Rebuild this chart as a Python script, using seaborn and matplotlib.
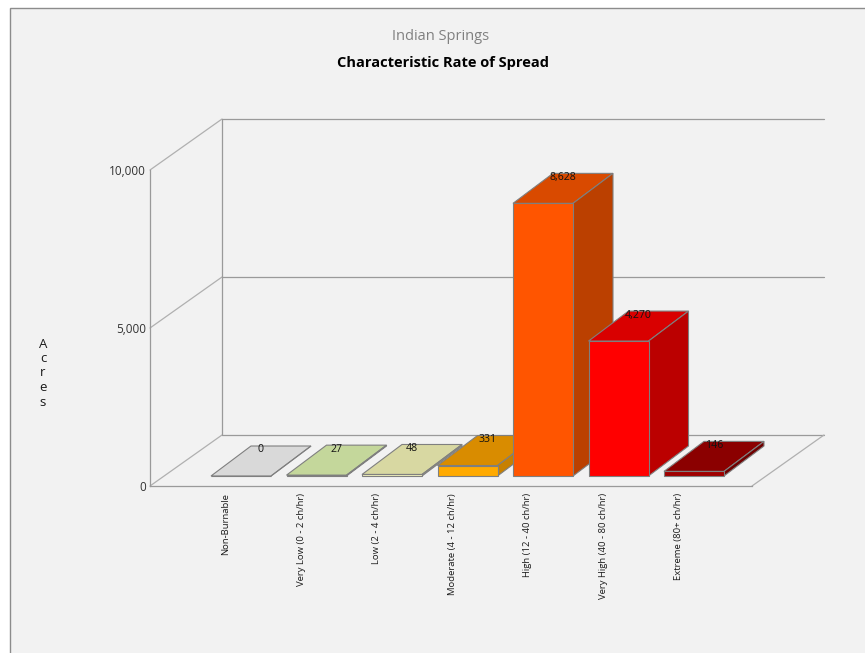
import matplotlib
matplotlib.use("Agg")
import matplotlib.pyplot as plt
from matplotlib.patches import Polygon, Rectangle
import seaborn as sns

categories = [
    "Non-Burnable",
    "Very Low (0 - 2 ch/hr)",
    "Low (2 - 4 ch/hr)",
    "Moderate (4 - 12 ch/hr)",
    "High (12 - 40 ch/hr)",
    "Very High (40 - 80 ch/hr)",
    "Extreme (80+ ch/hr)",
]
acres = [0, 27, 48, 331, 8628, 4270, 146]
value_labels = ["0", "27", "48", "331", "8,628", "4,270", "146"]
y_ticks = [0, 5000, 10000]
y_tick_labels = ["0", "5,000", "10,000"]

front_colors = ["#f2f2f2", "#dcefb4", "#f0f0bc", "#ffaa00", "#ff5500", "#ff0000", "#a00000"]
top_colors = ["#d9d9d9", "#c4d79b", "#d8d8a2", "#d98c00", "#d94a00", "#d90000", "#8b0000"]
side_colors = ["#c0c0c0", "#aabd85", "#bfbf8c", "#c78000", "#bb4000", "#bb0000", "#700000"]
edge = "#7f7f7f"

sns.set_theme(style="white")
plt.rcParams["font.family"] = ["Open Sans", "DejaVu Sans"]

W, H = 865, 653
fig = plt.figure(figsize=(W / 100, H / 100), dpi=100, facecolor="white")

# chart frame
fig.patches.append(Rectangle((10 / W, -0.05), 1.1, 1.05 - 8 / H, transform=fig.transFigure,
                             facecolor="#f2f2f2", edgecolor="#8c8c8c", linewidth=1.0, zorder=-5))

# front plane of the 3D box, in pixels
x_left, x_right, y_floor, y_top = 150, 752, 486, 170
x_center0, step = 226, 75.5
ax = fig.add_axes([x_left / W, (H - y_floor) / H, (x_right - x_left) / W, (y_floor - y_top) / H])
ax.set_facecolor("none")
ax.set_zorder(2)

px_x = 1 / step                       # data units per pixel, horizontal
px_y = 10000 / (y_floor - y_top)      # data units per pixel, vertical

def depth(dx, dy):
    return dx * px_x, dy * px_y

wall_dx, wall_dy = depth(72, 51)      # back wall
bar_dx, bar_dy = depth(15, 10)        # front face of the bars
deep_dx, deep_dy = depth(40, 30)      # depth of each bar
bar_w = 60 / step

sns.barplot(x=categories, y=acres, hue=categories, palette=front_colors, legend=False,
            width=bar_w, edgecolor=edge, linewidth=0.8, saturation=1, ax=ax)

xl = (x_left - x_center0) / step
xr = (x_right - x_center0) / step
ax.set_xlim(xl, xr)
ax.set_ylim(0, 10000)

# walls and floor
grid_kw = dict(color="#9a9a9a", linewidth=0.9, clip_on=False, zorder=1)
for v in y_ticks:
    ax.plot([xl + wall_dx, xr + wall_dx], [v + wall_dy, v + wall_dy], **grid_kw)
    ax.plot([xl, xl + wall_dx], [v, v + wall_dy], color="#b0b0b0", linewidth=0.9,
            clip_on=False, zorder=1)
ax.plot([xl + wall_dx, xl + wall_dx], [wall_dy, 10000 + wall_dy], **grid_kw)
ax.plot([xr, xr + wall_dx], [0, wall_dy], color="#b0b0b0", linewidth=0.9, clip_on=False, zorder=1)

bars = sorted(ax.patches, key=lambda p: p.get_x())
for i, (p, v) in enumerate(zip(bars, acres)):
    x0 = p.get_x() + bar_dx
    p.set_x(x0)
    p.set_y(bar_dy)
    p.set_zorder(10 + 3 * i + 2)
    p.set_clip_on(False)
    x1 = x0 + bar_w
    yb, yt = bar_dy, bar_dy + v
    top = Polygon([(x0, yt), (x1, yt), (x1 + deep_dx, yt + deep_dy), (x0 + deep_dx, yt + deep_dy)],
                  closed=True, facecolor=top_colors[i], edgecolor=edge, linewidth=0.8,
                  clip_on=False, zorder=10 + 3 * i)
    side = Polygon([(x1, yb), (x1 + deep_dx, yb + deep_dy), (x1 + deep_dx, yt + deep_dy), (x1, yt)],
                   closed=True, facecolor=side_colors[i], edgecolor=edge, linewidth=0.8,
                   clip_on=False, zorder=10 + 3 * i + 1)
    ax.add_patch(top)
    ax.add_patch(side)
    ax.text(x0 + bar_w / 2 + 20 * px_x, yt + deep_dy - 4 * px_y, value_labels[i],
            ha="center", va="center", fontsize=7.6, color="#111111", zorder=40, clip_on=False)

# axes: front edge of the box
for s in ["top", "right"]:
    ax.spines[s].set_visible(False)
for s in ["left", "bottom"]:
    ax.spines[s].set_color("#9a9a9a")
    ax.spines[s].set_linewidth(0.9)
ax.set_yticks(y_ticks)
ax.set_yticklabels(y_tick_labels, fontsize=8.5, color="#333333")
ax.set_xticks(range(len(categories)))
ax.set_xticklabels(categories, rotation=90, fontsize=6.8, color="#1a1a1a", va="top", ha="center")
ax.tick_params(axis="both", length=0)
ax.tick_params(axis="y", pad=3)
ax.tick_params(axis="x", pad=5)
ax.set_xlabel("")
ax.set_ylabel("")

fig.text(43 / W, 1 - 373 / H, "A\nc\nr\ne\ns", ha="center", va="center", fontsize=9.5,
         color="#1a1a1a", linespacing=1.15)
fig.text(441 / W, 1 - 36 / H, "Indian Springs", ha="center", va="center", fontsize=10.5,
         color="#808080")
fig.text(443 / W, 1 - 63 / H, "Characteristic Rate of Spread", ha="center", va="center",
         fontsize=10.5, fontweight="bold", color="#000000")

fig.savefig("out.png", dpi=100, facecolor=fig.get_facecolor())
